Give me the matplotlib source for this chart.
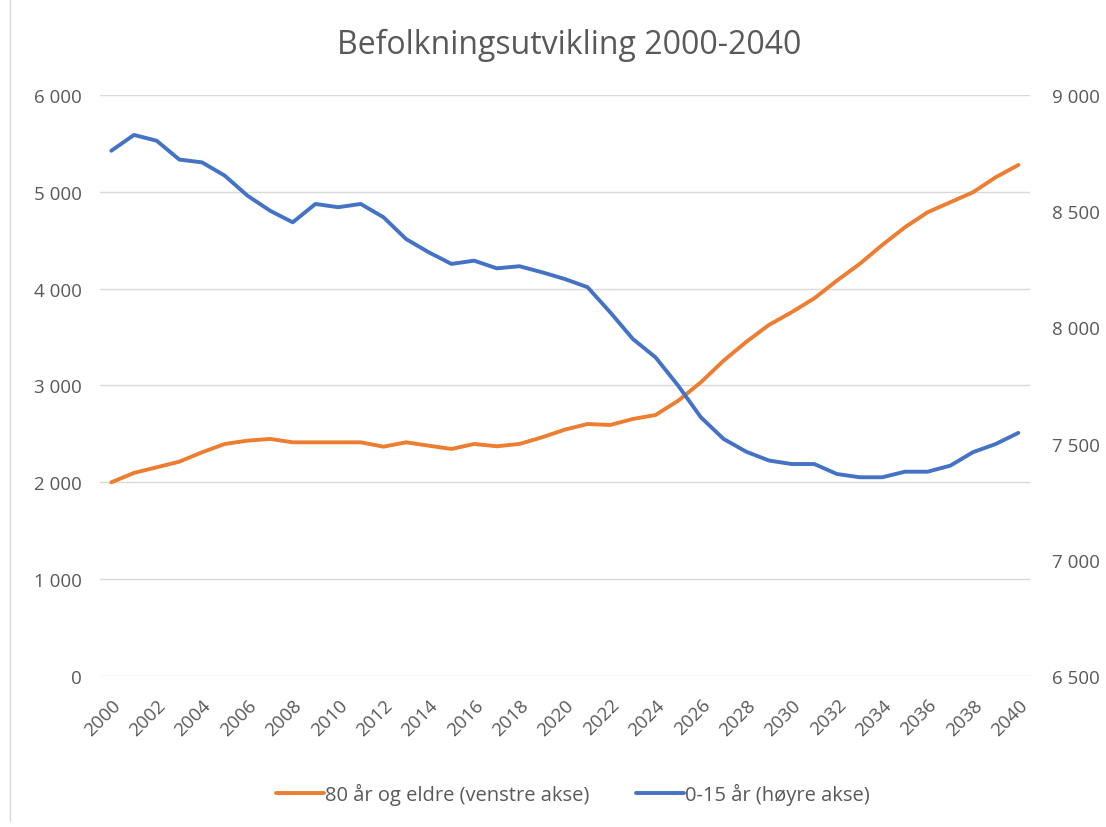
import matplotlib.pyplot as plt
from matplotlib.lines import Line2D
from matplotlib.ticker import FuncFormatter, MultipleLocator

plt.rcParams['font.family'] = ['Open Sans', 'DejaVu Sans']

years = list(range(2000, 2041))
eldre_80 = [2000, 2097, 2155, 2213, 2310, 2396, 2430, 2448, 2413, 2413,
            2413, 2413, 2368, 2413, 2378, 2344, 2396, 2372, 2396, 2465,
            2544, 2602, 2592, 2654, 2695, 2843, 3033, 3256, 3450, 3625,
            3756, 3900, 4083, 4255, 4451, 4634, 4789, 4892, 4995, 5150,
            5277]
barn_0_15 = [8760, 8828, 8803, 8722, 8710, 8653, 8567, 8502, 8452, 8531,
             8517, 8531, 8474, 8380, 8323, 8273, 8287, 8254, 8263, 8237,
             8208, 8173, 8065, 7950, 7871, 7749, 7613, 7520, 7465, 7427,
             7412, 7412, 7369, 7355, 7355, 7379, 7379, 7405, 7463, 7498,
             7546]

orange = '#ED7D31'
blue = '#4472C4'
grey_txt = '#595959'

fig = plt.figure(figsize=(11.06, 8.28), dpi=100)
ax = fig.add_axes([0.0904, 0.1824, 0.8406, 0.7017])
ax2 = ax.twinx()

l1, = ax.plot(years, eldre_80, color=orange, lw=2.8, solid_capstyle='round',
              label='80 år og eldre (venstre akse)')
l2, = ax2.plot(years, barn_0_15, color=blue, lw=2.8, solid_capstyle='round',
               label='0-15 år (høyre akse)')

ax.set_xlim(1999.5, 2040.5)
ax.set_ylim(0, 6000)
ax2.set_ylim(6500, 9000)
ax.yaxis.set_major_locator(MultipleLocator(1000))
ax2.yaxis.set_major_locator(MultipleLocator(500))

fmt = FuncFormatter(lambda v, p: f'{int(v):,}'.replace(',', ' '))
ax.yaxis.set_major_formatter(fmt)
ax2.yaxis.set_major_formatter(fmt)

ax.set_xticks(years[::2])
ax.set_xticklabels([str(y) for y in years[::2]], rotation=45, ha='right',
                   rotation_mode='anchor')

ax.grid(axis='y', color='#D9D9D9', lw=1)
ax.set_axisbelow(True)
for a in (ax, ax2):
    for s in a.spines.values():
        s.set_visible(False)
    a.tick_params(length=0, colors=grey_txt, labelsize=13.5)
ax.tick_params(axis='y', pad=13)
ax2.tick_params(axis='y', pad=16)
ax.tick_params(axis='x', pad=14)

fig.text(0.5145, 0.945, 'Befolkningsutvikling 2000-2040', ha='center',
         va='center', fontsize=23, color=grey_txt)

fig.legend(handles=[l1, l2], loc='center', bbox_to_anchor=(0.518, 0.04),
           ncol=2, frameon=False, fontsize=14.5, labelcolor=grey_txt,
           handlelength=2.4, handletextpad=0.05, columnspacing=2.3)

# chart area border on the left
fig.add_artist(Line2D([0.009, 0.009], [0.007, 1.0], transform=fig.transFigure,
                      color='#D9D9D9', lw=1))

fig.savefig('out.png', dpi=100, facecolor='white')
